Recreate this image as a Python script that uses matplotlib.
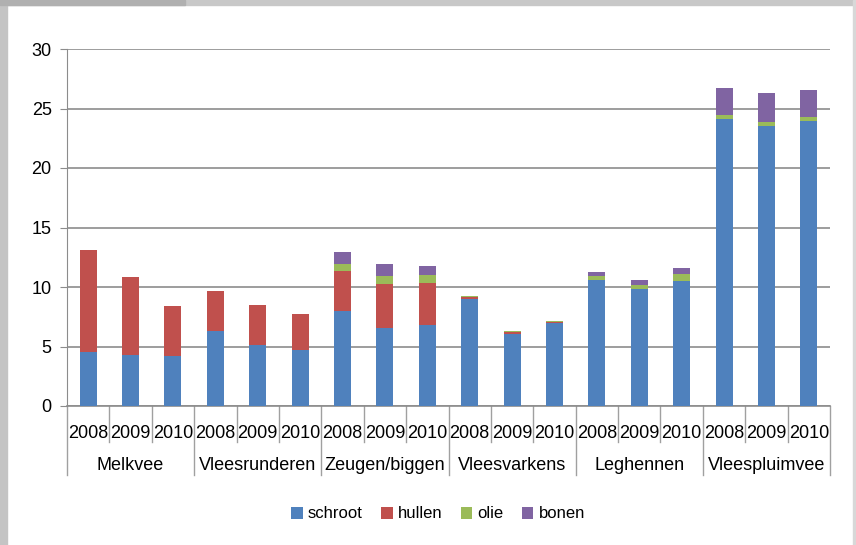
import matplotlib
matplotlib.use("Agg")
import matplotlib.pyplot as plt
import matplotlib.transforms as mtransforms
from matplotlib.patches import Rectangle
import numpy as np

plt.rcParams['font.family'] = ['Liberation Sans', 'DejaVu Sans']

groups = ["Melkvee", "Vleesrunderen", "Zeugen/biggen", "Vleesvarkens", "Leghennen", "Vleespluimvee"]
years = ["2008", "2009", "2010"]
series_names = ["schroot", "hullen", "olie", "bonen"]
schroot = [4.5, 4.28, 4.23, 6.3, 5.1, 4.73, 7.98, 6.58, 6.8, 9.0, 6.08, 7.0, 10.59, 9.83, 10.5, 24.1, 23.53, 23.95]
hullen = [8.6, 6.56, 4.17, 3.36, 3.39, 3.0, 3.36, 3.67, 3.53, 0.16, 0.17, 0.09, 0, 0, 0, 0, 0, 0]
olie = [0, 0, 0, 0, 0, 0, 0.59, 0.67, 0.67, 0.08, 0.08, 0.08, 0.33, 0.34, 0.59, 0.35, 0.34, 0.33]
bonen = [0, 0, 0, 0, 0, 0, 1.01, 1.01, 0.76, 0, 0, 0, 0.34, 0.42, 0.51, 2.27, 2.43, 2.27]
colors = ["#4F81BD", "#C0504D", "#9BBB59", "#8064A2"]

W, H = 856, 545
fig = plt.figure(figsize=(W / 100, H / 100), dpi=100)
fig.patch.set_facecolor("white")

# frame decoration (grey border strips)
fig.patches.append(Rectangle((0, 0), 7 / W, 1, transform=fig.transFigure, color="#c4c4c4", zorder=0))
fig.patches.append(Rectangle((0, 1 - 5 / H), 1, 5 / H, transform=fig.transFigure, color="#c8c8c8", zorder=0))
fig.patches.append(Rectangle((0, 1 - 5 / H), 185 / W, 5 / H, transform=fig.transFigure, color="#b0b0b0", zorder=0))
fig.patches.append(Rectangle((1 - 3 / W, 0), 3 / W, 1, transform=fig.transFigure, color="#d8d8d8", zorder=0))

left, right, bottom, top = 67, 830, 406, 49
ax = fig.add_axes([left / W, 1 - bottom / H, (right - left) / W, (bottom - top) / H])

n = len(schroot)
x = np.arange(n)
data = [schroot, hullen, olie, bonen]
base = np.zeros(n)
for vals, c, name in zip(data, colors, series_names):
    v = np.array(vals, dtype=float)
    ax.bar(x, v, bottom=base, width=0.4, color=c, label=name, zorder=3)
    base += v

ax.set_xlim(-0.5, n - 0.5)
ax.set_ylim(0, 30)
ax.set_yticks(np.arange(0, 31, 5))
ax.yaxis.grid(True, color="#8c8c8c", linewidth=1.2)
ax.set_axisbelow(True)
for s in ["top", "right"]:
    ax.spines[s].set_visible(False)
ax.spines["left"].set_color("#8c8c8c")
ax.spines["bottom"].set_color("#8c8c8c")
ax.spines["bottom"].set_linewidth(1.2)
ax.tick_params(axis="y", length=5, color="#8c8c8c", labelsize=13, pad=6)
ax.set_xticks([])

axh = bottom - top
trans = mtransforms.blended_transform_factory(ax.transData, ax.transAxes)
yr_y = -(433 - bottom) / axh
grp_y = -(465 - bottom) / axh
yr_sep = -(442 - bottom) / axh
grp_sep = -(475 - bottom) / axh

for i in range(n):
    ax.text(i, yr_y, years[i % 3], transform=trans, ha="center", va="center", fontsize=13)
for g, name in enumerate(groups):
    ax.text(3 * g + 1, grp_y, name, transform=trans, ha="center", va="center", fontsize=13)
for b in range(n + 1):
    xb = b - 0.5
    y2 = grp_sep if b % 3 == 0 else yr_sep
    ax.plot([xb, xb], [0, y2], transform=trans, color="#a0a0a0", linewidth=1, clip_on=False)

fig.legend(loc="center", bbox_to_anchor=(438 / W, 1 - 514 / H), ncol=4, frameon=False,
           fontsize=12, handlelength=0.7, handleheight=0.7, handletextpad=0.3, columnspacing=1.1)

fig.savefig("out.png", dpi=100)
